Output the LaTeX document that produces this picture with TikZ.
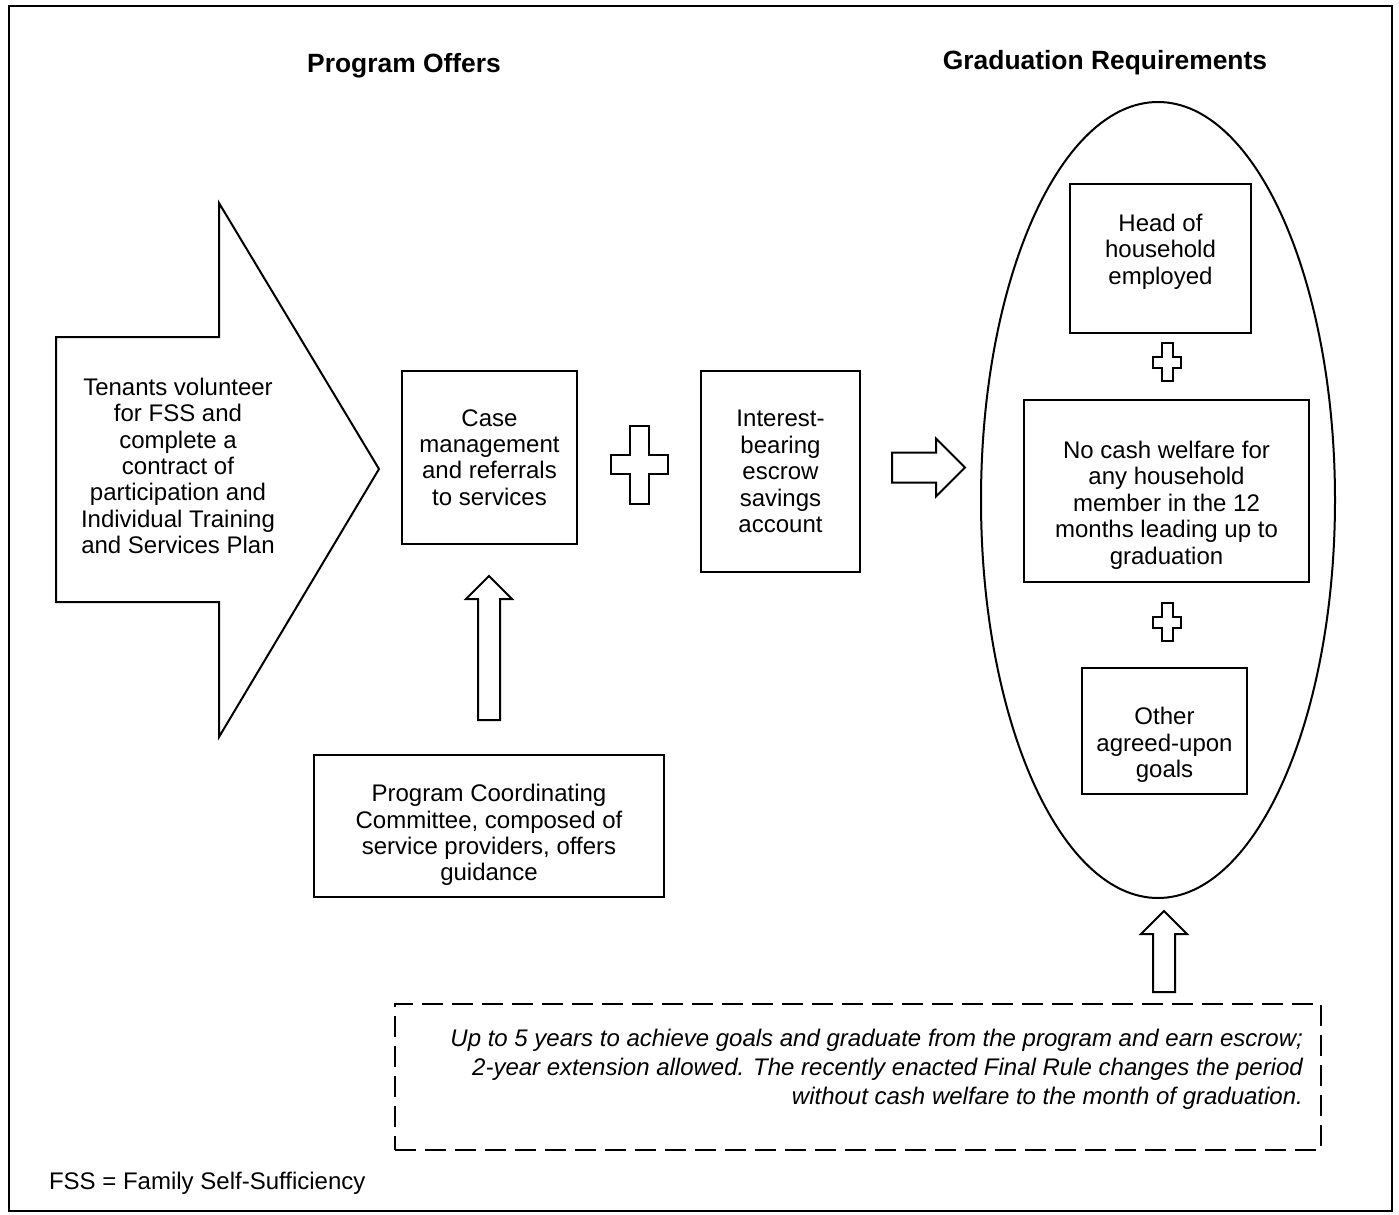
\documentclass[tikz,border=0pt]{standalone}
\usepackage{fontspec}
\setmainfont{Liberation Sans}
\usetikzlibrary{calc,positioning,shapes}

% hollow block arrow pointing up, from bottom point #1 to tip #2
\newcommand{\blkup}[2]{\draw[blk] let \p1=#1, \p2=#2 in (\x1-5.5pt,\y1) -- (\x1-5.5pt,\y2-11.5pt) -- (\x1-11.5pt,\y2-11.5pt) -- (\x1,\y2) -- (\x1+11.5pt,\y2-11.5pt) -- (\x1+5.5pt,\y2-11.5pt) -- (\x1+5.5pt,\y1) -- cycle;}
% hollow plus sign: centre, half width, half height, half arm
\newcommand{\plusblk}[4]{\draw[blk] #1 ++({-#4},{-#3}) -- ++({2*#4},0) -- ++(0,{#3-#4}) -- ++({#2-#4},0) -- ++(0,{2*#4}) -- ++({-(#2-#4)},0) -- ++(0,{#3-#4}) -- ++({-2*#4},0) -- ++(0,{-(#3-#4)}) -- ++({-(#2-#4)},0) -- ++(0,{-2*#4}) -- ++({#2-#4},0) -- cycle;}

\begin{document}
\begin{tikzpicture}[x=0.5pt,y=-0.5pt,font=\fontsize{12}{13.2}\selectfont,
	box/.style={draw,line width=1pt,align=center,inner sep=2pt},
	blk/.style={draw,line width=1pt,fill=white,line join=miter}
	]

	\useasboundingbox (0,0) rectangle (1399,1215);
	\draw[line width=1pt] (9,6) rectangle (1392,1211);

	\node[font=\fontsize{13.2}{15}\selectfont\bfseries] (t1) at (404,66) {Program Offers};
	\node[font=\fontsize{13.2}{15}\selectfont\bfseries] (t2) at (1105,63) {Graduation Requirements};

	% big arrow on the left
	\draw[blk] (56,337) -- (219,337) -- (219,203) -- (379,469) -- (219,737) -- (219,602) -- (56,602) -- cycle;
	\node[align=center] (tenants) at (178,466) {Tenants volunteer\\for FSS and\\complete a\\contract of\\participation and\\Individual Training\\and Services Plan};

	\node[box,minimum width=87.5pt,minimum height=86.5pt] (case) at (489.5,457.5) {Case\\management\\and referrals\\to services};
	\node[box,minimum width=79.5pt,minimum height=100.5pt] (escrow) at (780.5,471.5) {Interest-\\bearing\\escrow\\savings\\account};

	\node[box,minimum width=175pt,minimum height=71pt] (pcc) at (489,826) {};
	\node[align=center] (pcctxt) at ($(pcc)+(0,9)$) {Program Coordinating\\Committee, composed of\\service providers, offers\\guidance};

	\node[draw,ellipse,line width=1pt,minimum width=177pt,minimum height=398pt,inner sep=0pt] (grad) at (1158,500) {};

	\node[box,minimum width=90.5pt,minimum height=74.5pt] (head) at (1160.5,258.5) {};
	\node[align=center] (headtxt) at ($(head)+(0,-7)$) {Head of\\household\\employed};
	\node[box,minimum width=142.5pt,minimum height=91pt] (cash) at (1166.5,491) {};
	\node[align=center] (cashtxt) at ($(cash)+(0,14)$) {No cash welfare for\\any household\\member in the 12\\months leading up to\\graduation};
	\node[box,minimum width=82.5pt,minimum height=63pt] (goals) at (1164.5,731) {};
	\node[align=center] (goalstxt) at ($(goals)+(0,14)$) {Other\\agreed-upon\\goals};

	\node[draw,line width=1pt,dash pattern=on 10.5pt off 4.5pt,minimum width=463pt,minimum height=73pt] (rule) at (858,1077) {};
	\node[anchor=east,align=right,font=\fontsize{12}{14.5}\selectfont\itshape] (ruletxt) at ($(rule.east)+(-12,-8)$) {Up to 5 years to achieve goals and graduate from the program and earn escrow;\\2-year extension allowed. The recently enacted Final Rule changes the period\\without cash welfare to the month of graduation.};

	\node[anchor=west] (fss) at (42,1183) {FSS = Family Self-Sufficiency};

	\plusblk{($(case.east)!0.5!(escrow.west)$)}{28.5}{39}{9.5}
	\plusblk{(1167,362)}{14}{19}{5.5}
	\plusblk{(1167,622)}{14}{19}{5.5}

	\draw[blk] let \p1=($(escrow.east)+(31,-4)$), \p2=($(grad.west)+(-15,0)$) in (\x1,\y1+7.5pt) -- (\x2-14.5pt,\y1+7.5pt) -- (\x2-14.5pt,\y1+14.5pt) -- (\x2,\y1) -- (\x2-14.5pt,\y1-14.5pt) -- (\x2-14.5pt,\y1-7.5pt) -- (\x1,\y1-7.5pt) -- cycle;
	\blkup{($(pcc.north)+(0,-34)$)}{($(case.south)+(0,31)$)}
	\blkup{($(rule.north east)+(-158,-11)$)}{($(grad.south)+(0,12)$)}

\end{tikzpicture}
\end{document}
